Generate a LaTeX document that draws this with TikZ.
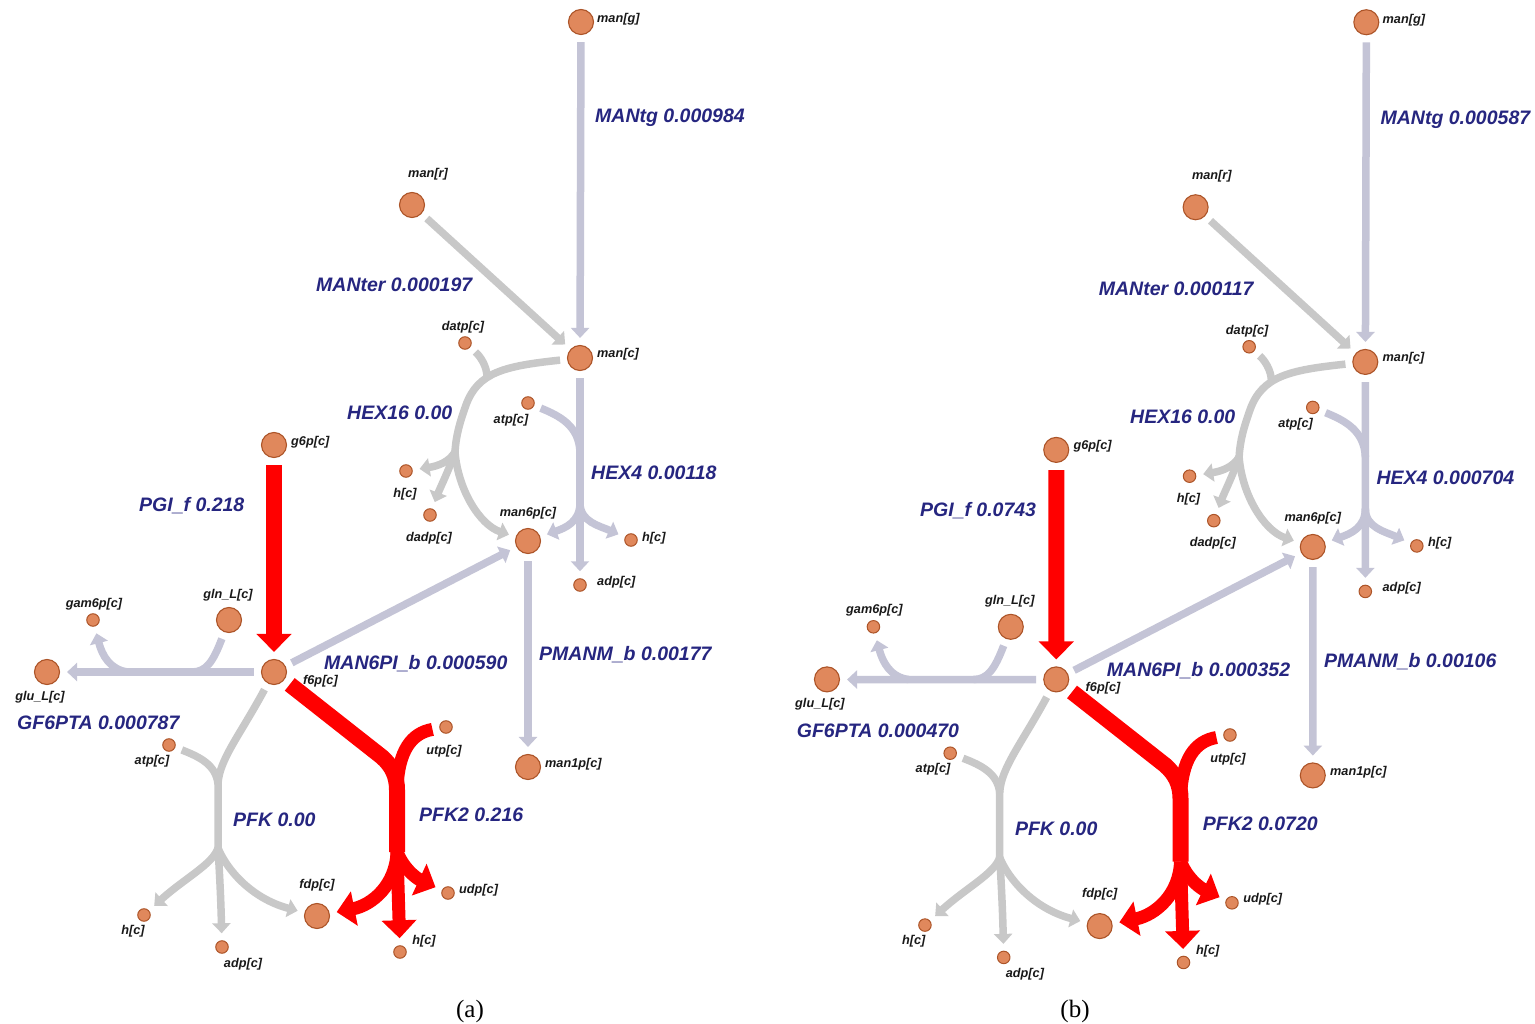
\documentclass[tikz,border=0pt]{standalone}
\usepackage{fontspec}
\setmainfont{Liberation Sans}
\newfontfamily\capfont{Liberation Serif}
\usetikzlibrary{arrows.meta}

\definecolor{fluxc}{RGB}{196,196,214}
\definecolor{zeroc}{RGB}{200,200,200}
\definecolor{hotc}{RGB}{255,0,0}
\definecolor{metfill}{RGB}{224,136,92}
\definecolor{metline}{RGB}{172,84,40}
\definecolor{rxnc}{RGB}{38,38,128}
\definecolor{metc}{RGB}{25,25,25}

\tikzset{
  metbig/.style={circle, fill=metfill, draw=metline, line width=1.1pt, minimum size=25pt, inner sep=0pt},
  metsmall/.style={circle, fill=metfill, draw=metline, line width=1pt, minimum size=12.5pt, inner sep=0pt},
  mlab/.style={font=\fontsize{12.7}{14}\selectfont\bfseries\itshape, text=metc, inner sep=0pt, anchor=base},
  mlabw/.style={mlab, anchor=base west},
  rlab/.style={font=\fontsize{19.5}{22}\selectfont\bfseries\itshape, text=rxnc, inner sep=0pt, anchor=base west},
  flux/.style={draw=fluxc, line width=7.5pt},
  zero/.style={draw=zeroc, line width=7.5pt},
  hot/.style={draw=hotc, line width=16pt},
  hotbranch/.style={draw=hotc, line width=13pt},
  gapout/.style={shorten <=7pt},
  gapin/.style={shorten >=7pt},
  fluxarrow/.style={-{Triangle[width=18pt,length=10pt]}},
  hotarrow/.style={-{Triangle[width=34pt,length=18pt]}},
}

% One flux map: #1 MANtg, #2 MANter, #3 HEX4, #4 PGI_f, #5 MAN6PI_b,
% #6 PMANM_b, #7 GF6PTA, #8 PFK2, #9 name prefix
\newcommand\drawfluxmap[9]{%
\begin{scope}[name prefix=#9-]
  % metabolites
  \node[metbig]   (mang)  at (581,22)  {};
  \node[metbig]   (manr)  at (412,205) {};
  \node[metbig]   (manc)  at (580,358) {};
  \node[metsmall] (datp)  at (465,343) {};
  \node[metsmall] (atpA)  at (528,403) {};
  \node[metsmall] (hA)    at (406,471) {};
  \node[metsmall] (dadp)  at (430,515) {};
  \node[metbig]   (man6p) at (528,541) {};
  \node[metsmall] (hB)    at (631,540) {};
  \node[metsmall] (adpB)  at (580,585) {};
  \node[metbig]   (g6p)   at (274,445) {};
  \node[metbig]   (glnL)  at (229,620) {};
  \node[metsmall] (gam6p) at (93,620)  {};
  \node[metbig]   (gluL)  at (47,672)  {};
  \node[metbig]   (f6p)   at (274,672) {};
  \node[metbig]   (man1p) at (528,767) {};
  \node[metsmall] (atpC)  at (169,745) {};
  \node[metsmall] (utp)   at (446,727) {};
  \node[metsmall] (hC)    at (144,915) {};
  \node[metsmall] (adpC)  at (222,947) {};
  \node[metbig]   (fdp)   at (317,916) {};
  \node[metsmall] (udp)   at (448,893) {};
  \node[metsmall] (hD)    at (400,952) {};
  % metabolite names
  \node[mlabw] (mang-t)  at (597,23)  {man[g]};
  \node[mlab]  (manr-t)  at (428,178) {man[r]};
  \node[mlabw] (manc-t)  at (597,358) {man[c]};
  \node[mlab]  (datp-t)  at (463,331) {datp[c]};
  \node[mlab]  (atpA-t)  at (511,423) {atp[c]};
  \node[mlab]  (hA-t)    at (405,497) {h[c]};
  \node[mlab]  (dadp-t)  at (429,541) {dadp[c]};
  \node[mlab]  (man6p-t) at (528,516) {man6p[c]};
  \node[mlabw] (hB-t)    at (642,541) {h[c]};
  \node[mlabw] (adpB-t)  at (597,585) {adp[c]};
  \node[mlabw] (g6p-t)   at (291,445) {g6p[c]};
  \node[mlab]  (glnL-t)  at (228,598) {gln\_L[c]};
  \node[mlab]  (gam6p-t) at (94,607)  {gam6p[c]};
  \node[mlab]  (gluL-t)  at (40,700)  {glu\_L[c]};
  \node[mlabw] (f6p-t)   at (303,684) {f6p[c]};
  \node[mlabw] (man1p-t) at (545,767) {man1p[c]};
  \node[mlab]  (atpC-t)  at (152,764) {atp[c]};
  \node[mlab]  (utp-t)   at (444,754) {utp[c]};
  \node[mlab]  (hC-t)    at (133,934) {h[c]};
  \node[mlab]  (adpC-t)  at (243,967) {adp[c]};
  \node[mlab]  (fdp-t)   at (317,888) {fdp[c]};
  \node[mlabw] (udp-t)   at (459,893) {udp[c]};
  \node[mlab]  (hD-t)    at (424,944) {h[c]};
  % reaction names and fluxes
  \node[rlab] (MANtg-t)   at (595,123) {MANtg #1};
  \node[rlab] (MANter-t)  at (316,292) {MANter #2};
  \node[rlab] (HEX16-t)   at (347,419) {HEX16 0.00};
  \node[rlab] (HEX4-t)    at (591,479) {HEX4 #3};
  \node[rlab] (PGIf-t)    at (139,511) {PGI\_f #4};
  \node[rlab] (MAN6PI-t)  at (324,669) {MAN6PI\_b #5};
  \node[rlab] (PMANM-t)   at (539,660) {PMANM\_b #6};
  \node[rlab] (GF6PTA-t)  at (17,729)  {GF6PTA #7};
  \node[rlab] (PFK-t)     at (233,826) {PFK 0.00};
  \node[rlab] (PFK2-t)    at (419,821) {PFK2 #8};
  % MANtg, MANter
  \draw[flux, gapout, gapin, fluxarrow] (mang) -- (manc);
  \draw[zero, gapout, gapin, fluxarrow] (manr) -- (manc);
  % HEX16
  \coordinate (h16j) at (487,377);
  \coordinate (h16b) at (455,452);
  \draw[zero, gapout] (manc) .. controls (505,366) and (478,372) .. (466,405)
        .. controls (460,422) and (456,435) .. (h16b);
  \draw[zero, gapout] (datp) .. controls (480,356) and (487,366) .. (h16j);
  \draw[zero, gapin, fluxarrow] (h16b) .. controls (449,462) and (438,466) .. (hA);
  \draw[zero, gapin, fluxarrow] (h16b) .. controls (449,470) and (440,488) .. (dadp);
  \draw[zero, gapin, fluxarrow] (h16b) .. controls (458,490) and (480,525) .. (man6p);
  % HEX4
  \coordinate (h4j) at (580,452);
  \coordinate (h4b) at (580,503);
  \draw[flux, gapout, gapin, fluxarrow] (manc) -- (adpB);
  \draw[flux, gapout] (atpA) .. controls (560,416) and (579,426) .. (h4j);
  \draw[flux, gapin, fluxarrow] (h4b) .. controls (580,522) and (565,528) .. (man6p);
  \draw[flux, gapin, fluxarrow] (h4b) .. controls (580,522) and (600,526) .. (hB);
  % MAN6PI_b, PMANM_b
  \draw[flux, gapout, gapin, fluxarrow] (f6p) -- (man6p);
  \draw[flux, gapout, gapin, fluxarrow] (man6p) -- (man1p);
  % PGI_f
  \draw[hot, gapout, gapin, hotarrow] (g6p) -- (f6p);
  % GF6PTA
  \coordinate (gfj) at (192,672);
  \coordinate (gfb) at (128,672);
  \draw[flux, gapout, gapin, fluxarrow] (f6p) -- (gluL);
  \draw[flux, gapout] (glnL) .. controls (213,662) and (206,672) .. (gfj);
  \draw[flux, gapin, fluxarrow] (gfb) .. controls (110,670) and (102,655) .. (gam6p);
  % PFK
  \coordinate (pfkj) at (218,784);
  \coordinate (pfkb) at (218,848);
  \draw[zero, gapout] (f6p) .. controls (240,735) and (219,760) .. (pfkj) -- (pfkb);
  \draw[zero, gapout] (atpC) .. controls (200,757) and (216,765) .. (pfkj);
  \draw[zero, gapin, fluxarrow] (pfkb) .. controls (213,864) and (185,878) .. (hC);
  \draw[zero, gapin, fluxarrow] (pfkb) .. controls (220,880) and (221,905) .. (adpC);
  \draw[zero, gapin, fluxarrow] (pfkb) .. controls (226,868) and (250,898) .. (fdp);
  % PFK2
  \coordinate (p2j) at (397,790);
  \coordinate (p2b) at (397,852);
  \draw[hot, gapout] (f6p) -- (382,757) .. controls (392,766) and (397,776) .. (p2j) -- (p2b);
  \draw[hotbranch, gapout] (utp) .. controls (412,733) and (398,750) .. (p2j);
  \draw[hotbranch, gapin, hotarrow] (p2b) .. controls (396,885) and (372,905) .. (fdp);
  \draw[hotbranch, gapin, hotarrow] (p2b) -- (hD);
  \draw[hotbranch, gapin, hotarrow] (p2b) .. controls (405,872) and (420,880) .. (udp);
\end{scope}}

\begin{document}
\begin{tikzpicture}[x=1pt, y=-1pt]
  \fill[white] (0,0) rectangle (1535,1024);
  \useasboundingbox (0,0) rectangle (1535,1024);

  \drawfluxmap{0.000984}{0.000197}{0.00118}{0.218}{0.000590}{0.00177}{0.000787}{0.216}{a}

  \begin{scope}[shift={(779.5,0)}, xscale=1.01, yscale=1.011]
    \drawfluxmap{0.000587}{0.000117}{0.000704}{0.0743}{0.000352}{0.00106}{0.000470}{0.0720}{b}
  \end{scope}

  \node[font=\capfont\fontsize{25}{28}\selectfont, anchor=base, inner sep=0pt] (capa) at (470,1017) {(a)};
  \node[font=\capfont\fontsize{25}{28}\selectfont, anchor=base, inner sep=0pt] (capb) at (1075,1017) {(b)};
\end{tikzpicture}
\end{document}
